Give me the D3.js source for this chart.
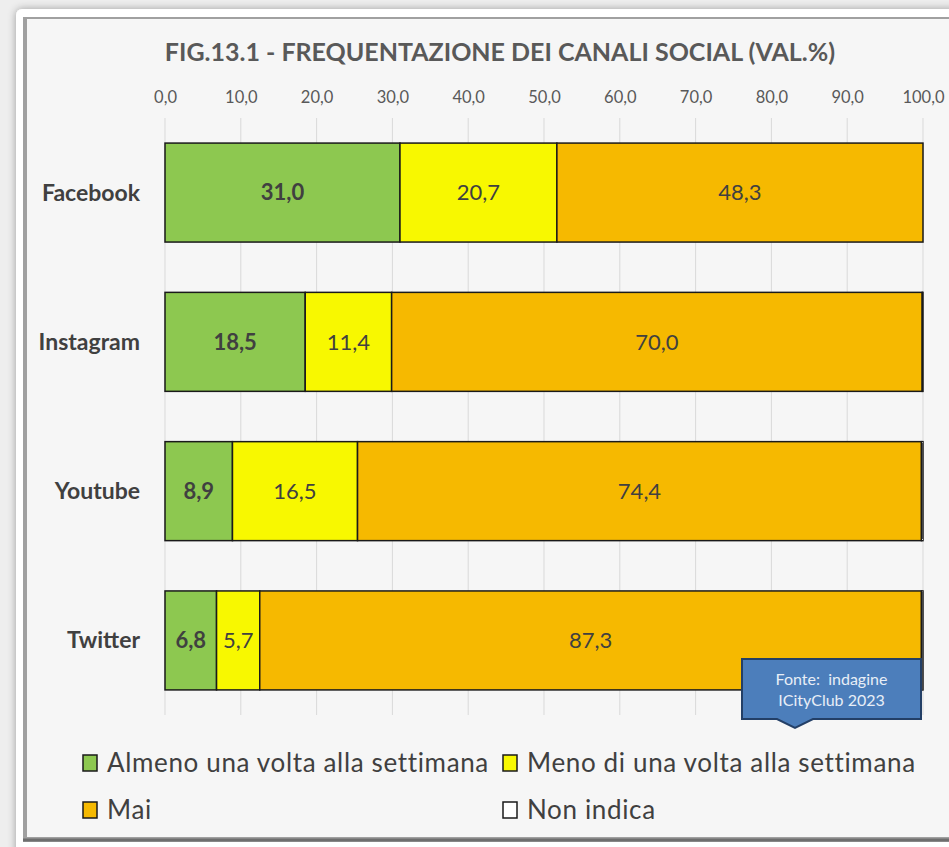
<!DOCTYPE html>
<html>
<head>
<meta charset="utf-8">
<script src="https://cdn.jsdelivr.net/npm/d3@7"></script>
<style>
  body { margin: 0; background: #ededed; }
  text { font-family: Lato, "Open Sans", sans-serif; }
</style>
</head>
<body>
<script>
// chart data
var categories = ["Facebook", "Instagram", "Youtube", "Twitter"];
var seriesNames = ["Almeno una volta alla settimana", "Meno di una volta alla settimana", "Mai", "Non indica"];
var almeno = [31.0, 18.5, 8.9, 6.8];
var meno = [20.7, 11.4, 16.5, 5.7];
var mai = [48.3, 70.0, 74.4, 87.3];
var nonIndica = [0.0, 0.1, 0.2, 0.2];
var tickValues = [0, 10, 20, 30, 40, 50, 60, 70, 80, 90, 100];
var colors = ["#8dc850", "#f8f800", "#f6b900", "#ffffff"];

var w = 949, h = 847;
var it = d3.formatLocale({decimal: ",", thousands: ".", grouping: [3], currency: ["", "€"]});
var fmt = it.format(".1f");

var svg = d3.select("body").append("svg")
    .attr("width", w)
    .attr("height", h);

// background / frame
var defs = svg.append("defs");
var sh = defs.append("filter").attr("id", "shadow").attr("x", "-5%").attr("y", "-5%").attr("width", "110%").attr("height", "110%");
sh.append("feGaussianBlur").attr("in", "SourceAlpha").attr("stdDeviation", 4);
sh.append("feOffset").attr("dx", 0).attr("dy", 0).attr("result", "b");
sh.append("feComponentTransfer").append("feFuncA").attr("type", "linear").attr("slope", 0.35);
var mg = sh.append("feMerge");
mg.append("feMergeNode");
mg.append("feMergeNode").attr("in", "SourceGraphic");

svg.append("rect").attr("width", w).attr("height", h).style("fill", "#eeeeee");
svg.append("rect")
    .attr("x", 16).attr("y", 9).attr("width", 950).attr("height", 850).attr("rx", 6)
    .style("fill", "#ffffff")
    .attr("filter", "url(#shadow)");
svg.append("rect")
    .attr("x", 23).attr("y", 17).attr("width", 940).attr("height", 825)
    .style("fill", "#a0a0a0");
svg.append("rect")
    .attr("x", 27).attr("y", 19).attr("width", 936).attr("height", 818)
    .style("fill", "#f6f6f6");
svg.append("line")
    .attr("x1", 23).attr("x2", 949).attr("y1", 840).attr("y2", 840)
    .style("stroke", "#6e6e6e").style("stroke-width", 3);

// title
svg.append("text")
    .attr("x", 500).attr("y", 61)
    .attr("text-anchor", "middle")
    .style("font-size", "25px").style("font-weight", "bold").style("fill", "#595959")
    .text("FIG.13.1 - FREQUENTAZIONE DEI CANALI SOCIAL (VAL.%)");

// scales
var x = d3.scaleLinear().domain([0, 100]).range([165, 923]);
var y = d3.scaleBand().domain(categories).range([118, 715]).paddingInner(0.337).paddingOuter(0.168);

// gridlines
svg.append("g").selectAll("line")
    .data(tickValues).enter().append("line")
    .attr("x1", function(d){ return x(d); })
    .attr("x2", function(d){ return x(d); })
    .attr("y1", 118).attr("y2", 715)
    .style("stroke", "#d9d9d9").style("stroke-width", 1);

// top axis labels
var xAxis = d3.axisTop(x).tickValues(tickValues).tickSize(0).tickPadding(0).tickFormat(fmt);
var ax = svg.append("g")
    .attr("transform", "translate(0,103)")
    .call(xAxis);
ax.select(".domain").remove();
ax.selectAll("text")
    .style("font-family", "Lato, sans-serif")
    .style("font-size", "16.5px").style("fill", "#595959");

// category labels
svg.append("g").selectAll("text")
    .data(categories).enter().append("text")
    .attr("x", 140)
    .attr("y", function(d){ return y(d) + y.bandwidth() / 2; })
    .attr("dy", "0.35em")
    .attr("text-anchor", "end")
    .style("font-size", "23px").style("font-weight", "bold").style("fill", "#404040")
    .text(function(d){ return d; });

// stacked data
var rows = categories.map(function(c, i){
    return {cat: c, Almeno: almeno[i], Meno: meno[i], Mai: mai[i], Non: nonIndica[i]};
});
var keys = ["Almeno", "Meno", "Mai", "Non"];
var stack = d3.stack().keys(keys)(rows);

var layers = svg.append("g").selectAll("g")
    .data(stack).enter().append("g")
    .style("fill", function(d, i){ return colors[i]; });

layers.selectAll("rect")
    .data(function(d){ return d; }).enter().append("rect")
    .attr("x", function(d){ return x(d[0]); })
    .attr("width", function(d){ return x(d[1]) - x(d[0]); })
    .attr("y", function(d){ return y(d.data.cat); })
    .attr("height", y.bandwidth())
    .style("stroke", "#1a1a1a").style("stroke-width", 1.5);

// value labels (not for Non indica)
stack.slice(0, 3).forEach(function(layer, li){
    svg.append("g").selectAll("text")
        .data(layer).enter().append("text")
        .attr("x", function(d){ return (x(d[0]) + x(d[1])) / 2; })
        .attr("y", function(d){ return y(d.data.cat) + y.bandwidth() / 2; })
        .attr("dy", "0.35em")
        .attr("text-anchor", "middle")
        .style("font-size", "22px")
        .style("font-weight", li === 0 ? "bold" : "normal")
        .style("fill", "#404040")
        .text(function(d){ return fmt(d[1] - d[0]); });
});

// callout
var cx0 = 742, cx1 = 921, cy0 = 659, cy1 = 719, tip = 795;
svg.append("path")
    .attr("d", "M" + cx0 + "," + cy0 + "H" + cx1 + "V" + cy1 + "H" + (tip + 18) +
        "L" + tip + "," + (cy1 + 9) + "L" + (tip - 18) + "," + cy1 + "H" + cx0 + "Z")
    .style("fill", "#4c7ebb").style("stroke", "#233f66").style("stroke-width", 2);
svg.append("text")
    .attr("x", (cx0 + cx1) / 2).attr("y", 685)
    .attr("text-anchor", "middle")
    .style("font-size", "16px").style("fill", "#e8eef7")
    .style("white-space", "pre")
    .text("Fonte:  indagine");
svg.append("text")
    .attr("x", (cx0 + cx1) / 2).attr("y", 706)
    .attr("text-anchor", "middle")
    .style("font-size", "16px").style("fill", "#e8eef7")
    .text("ICityClub 2023");

// legend
var legPos = [[83, 763], [503, 763], [83, 810], [503, 810]];
var leg = svg.append("g").selectAll("g")
    .data(seriesNames).enter().append("g")
    .attr("transform", function(d, i){ return "translate(" + legPos[i][0] + "," + legPos[i][1] + ")"; });
leg.append("rect")
    .attr("x", 0).attr("y", -8).attr("width", 14).attr("height", 16)
    .style("fill", function(d, i){ return colors[i]; })
    .style("stroke", "#1a1a1a").style("stroke-width", 1.5);
leg.append("text")
    .attr("x", 24).attr("y", 0).attr("dy", "0.35em")
    .style("font-size", "26px").style("fill", "#404040")
    .style("letter-spacing", "0.65px")
    .text(function(d){ return d; });
</script>
</body>
</html>
